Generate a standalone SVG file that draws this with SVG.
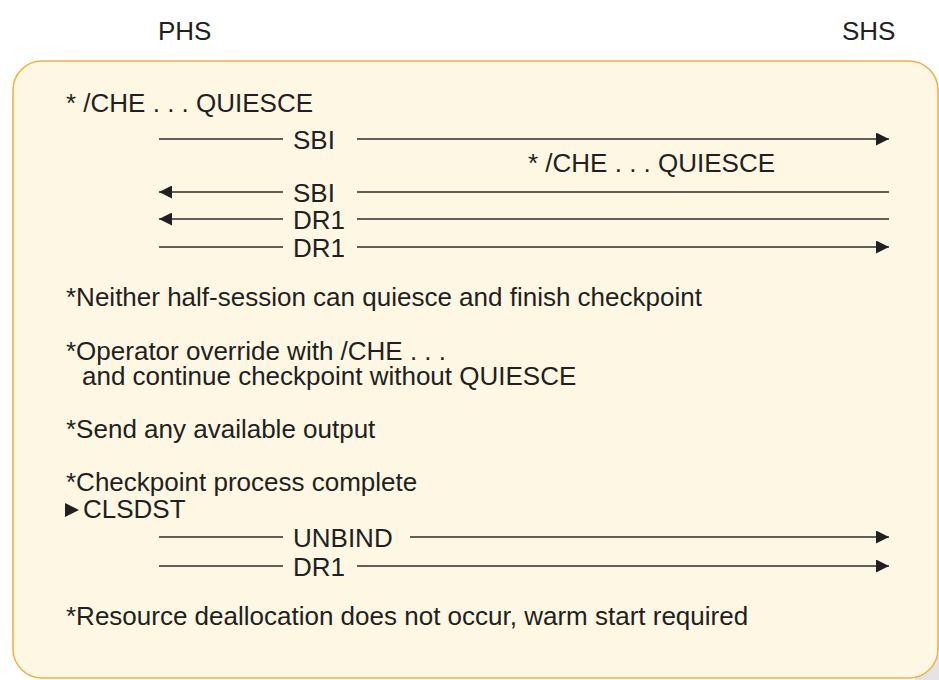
<svg xmlns="http://www.w3.org/2000/svg" width="939" height="680" viewBox="0 0 939 680">
<defs>
<style>
text{font-family:"Liberation Sans",Arial,sans-serif;font-size:26px;fill:#231f20}
.ln{stroke:#2b2b2b;stroke-width:1.6;fill:none}
.arr{marker-end:url(#ah)}
</style>
<marker id="ah" markerUnits="userSpaceOnUse" markerWidth="14" markerHeight="13" refX="13" refY="6.5" orient="auto">
<path d="M0,0 L13,6.5 L0,13 Z" fill="#231f20"/>
</marker>
</defs>
<rect x="0" y="0" width="939" height="680" fill="#ffffff"/>
<rect x="915" y="655" width="24" height="25" fill="#e4e4e4"/>
<g id="frame">
<rect x="13" y="61" width="925" height="617" rx="29" ry="29" fill="#fdf7e4" stroke="#f0b04a" stroke-width="1.6"/>
</g>
<g id="phs"><text x="158" y="40">PHS</text></g>
<g id="shs"><text x="842" y="40">SHS</text></g>
<g id="notes">
<text x="66" y="112">* /CHE . . . QUIESCE</text>
<text x="528" y="172">* /CHE . . . QUIESCE</text>
<text x="66" y="306">*Neither half-session can quiesce and finish checkpoint</text>
<text x="66" y="360">*Operator override with /CHE . . .</text>
<text x="82" y="385">and continue checkpoint without QUIESCE</text>
<text x="66" y="438">*Send any available output</text>
<text x="66" y="491">*Checkpoint process complete</text>
<path d="M65,503 L79,510 L65,517 Z" fill="#231f20"/>
<text x="83" y="518">CLSDST</text>
<text x="66" y="625">*Resource deallocation does not occur, warm start required</text>
</g>
<g id="connectors">
<line class="ln" x1="159" y1="139" x2="283" y2="139"/>
<line class="ln arr" x1="357" y1="139" x2="889" y2="139"/>
<text x="293" y="149">SBI</text>
<line class="ln arr" x1="283" y1="192" x2="159" y2="192"/>
<line class="ln" x1="357" y1="192" x2="889" y2="192"/>
<text x="293" y="202">SBI</text>
<line class="ln arr" x1="283" y1="219" x2="159" y2="219"/>
<line class="ln" x1="357" y1="219" x2="889" y2="219"/>
<text x="293" y="229">DR1</text>
<line class="ln" x1="159" y1="247" x2="283" y2="247"/>
<line class="ln arr" x1="357" y1="247" x2="889" y2="247"/>
<text x="293" y="257">DR1</text>
<line class="ln" x1="159" y1="537" x2="283" y2="537"/>
<line class="ln arr" x1="410" y1="537" x2="889" y2="537"/>
<text x="293" y="547">UNBIND</text>
<line class="ln" x1="159" y1="566" x2="283" y2="566"/>
<line class="ln arr" x1="357" y1="566" x2="889" y2="566"/>
<text x="293" y="576">DR1</text>
</g>
</svg>
